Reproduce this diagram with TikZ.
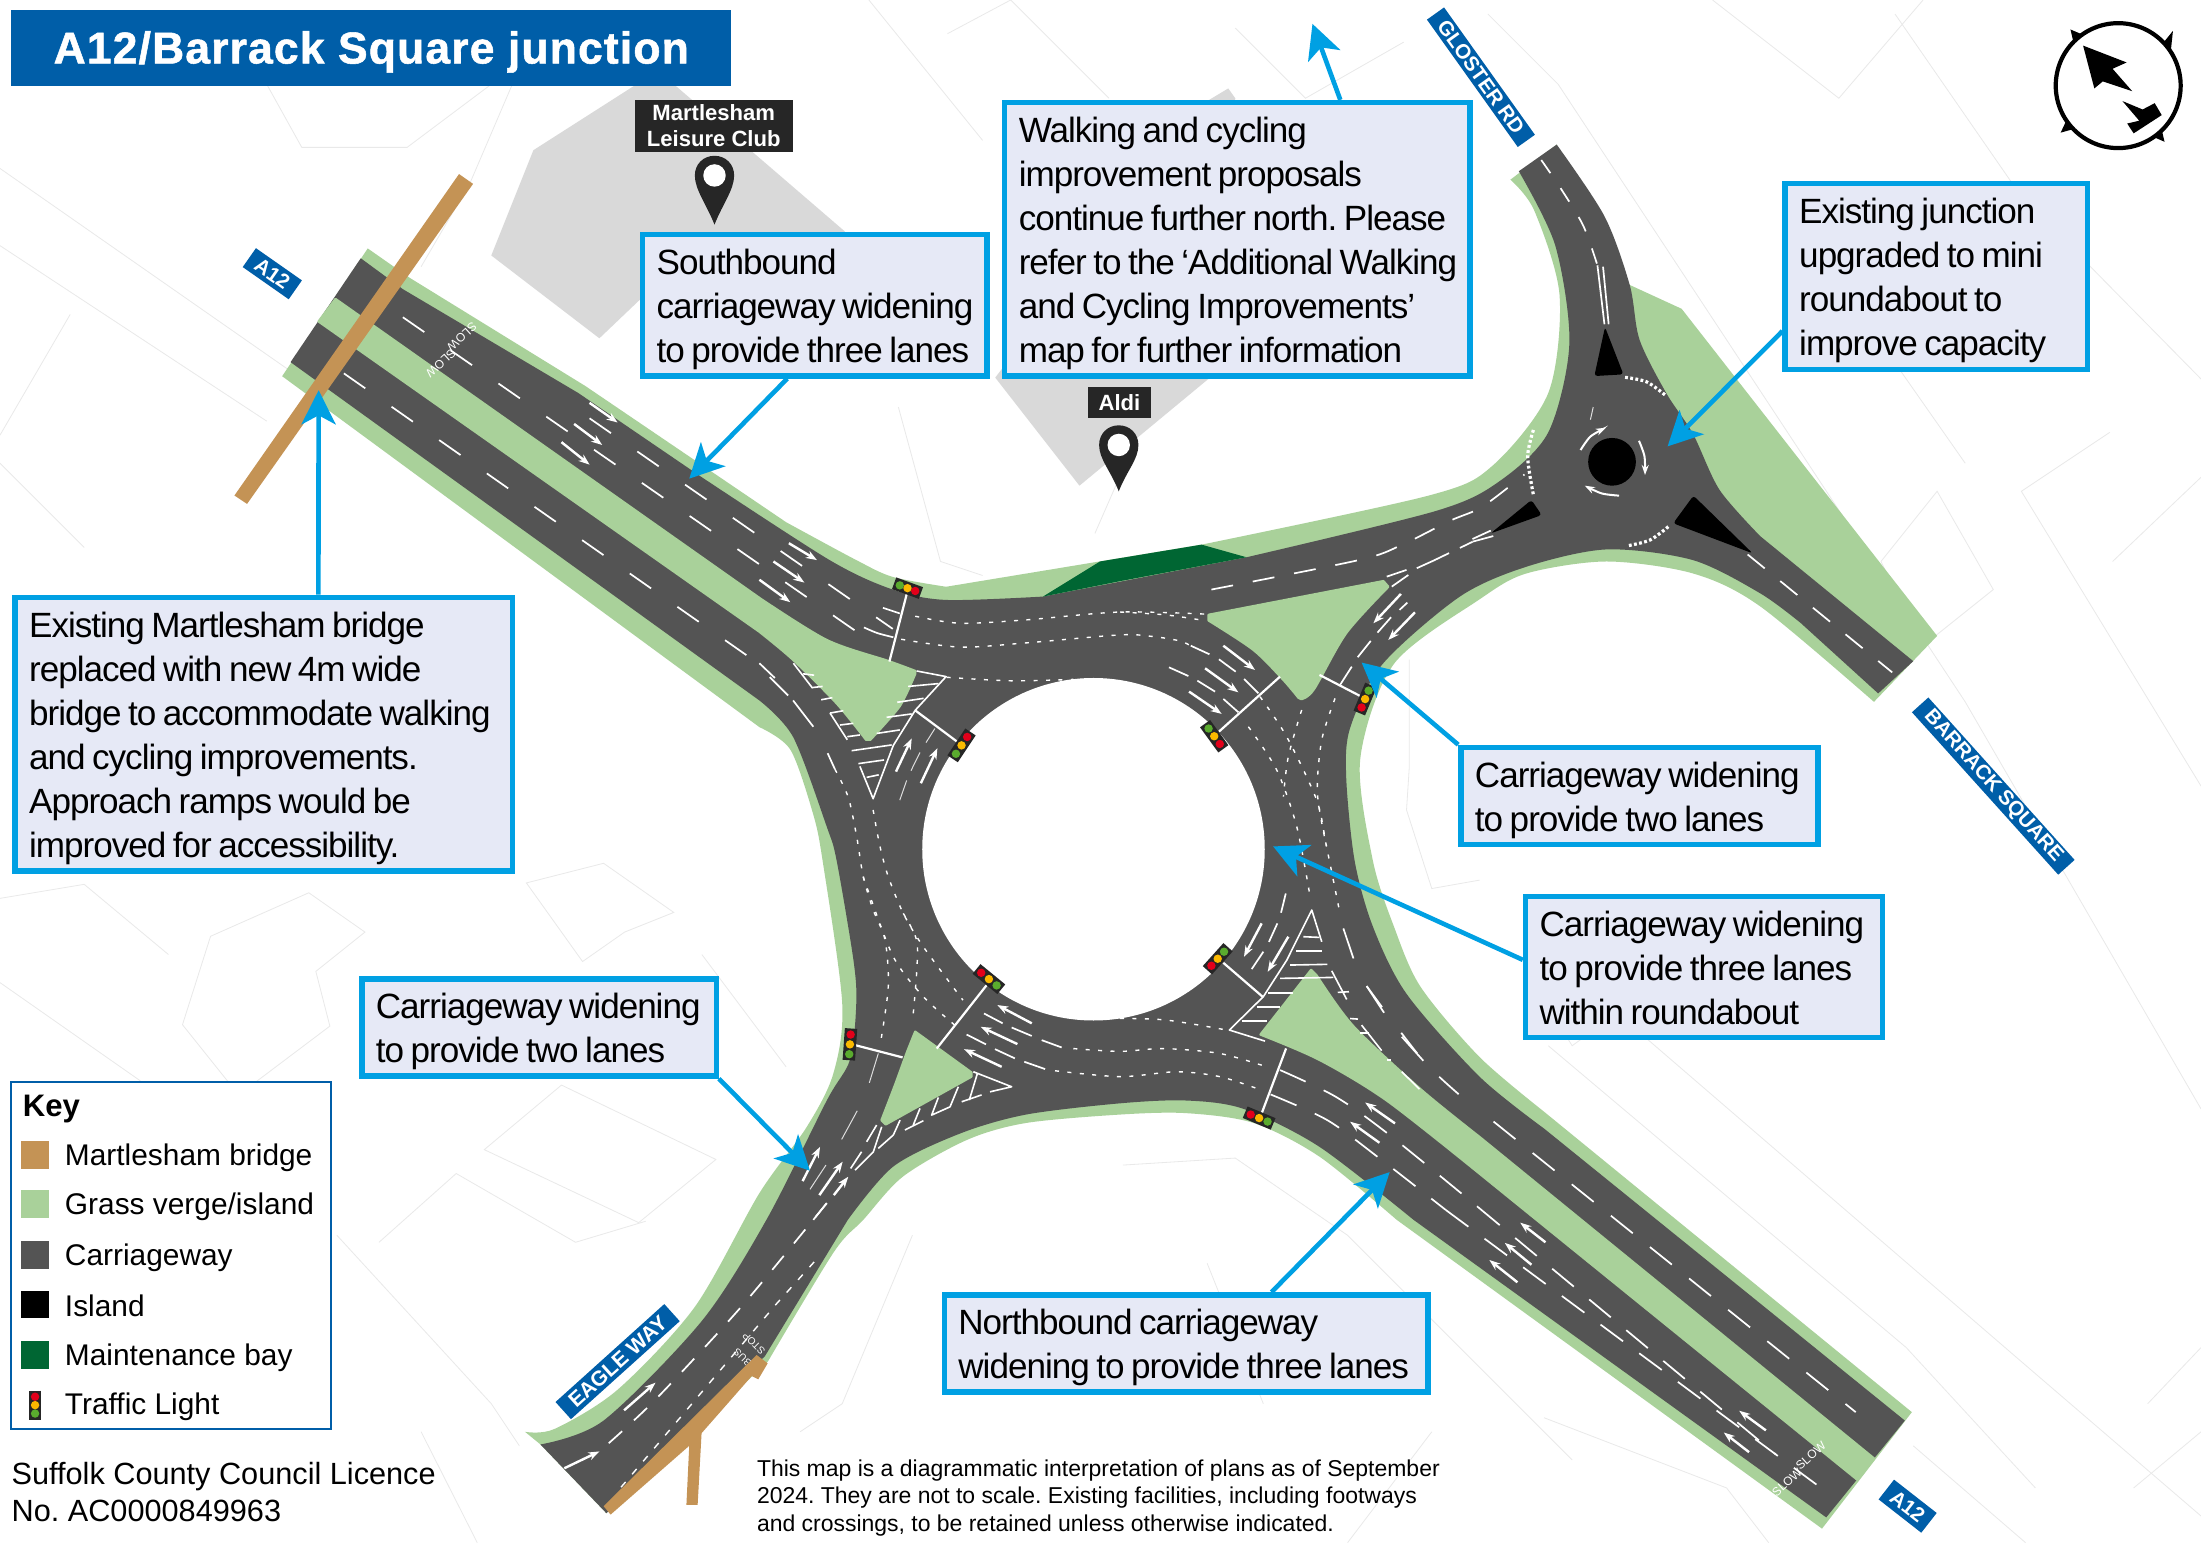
\documentclass[tikz,border=0pt]{standalone}
\usepackage{fontspec}
\setmainfont{Liberation Sans}
\newfontfamily\cofont[LetterSpace=-2.9,WordSpace=0.75]{Liberation Sans}
\newfontfamily\titlefont[LetterSpace=2.5,FakeBold=1.2]{Liberation Sans Bold}
\usetikzlibrary{arrows.meta,calc}
\frenchspacing
\definecolor{verge}{HTML}{A9D19A}
\definecolor{road}{HTML}{545454}
\definecolor{bridge}{HTML}{C49355}
\definecolor{bay}{HTML}{006633}
\definecolor{callblue}{HTML}{00A0E3}
\definecolor{callfill}{HTML}{E6E9F6}
\definecolor{signblue}{HTML}{005EA8}
\definecolor{building}{HTML}{D9D9D9}
\definecolor{faint}{HTML}{E9E9E9}
\definecolor{tlred}{HTML}{E2001A}
\definecolor{tlyellow}{HTML}{FBB900}
\definecolor{tlgreen}{HTML}{5AAB2E}
\tikzset{
 x=0.7pt,y=-0.7pt,
 mapline/.style={draw=faint,line width=.4pt},
 lane/.style={draw=white,line width=.85pt},
 thinlane/.style={draw=white!80!road,line width=.5pt},
 dashlane/.style={draw=white,line width=.85pt,dash pattern=on 13pt off 16pt},
 dotlane/.style={draw=white,line width=.7pt,dash pattern=on 2pt off 4.2pt},
 lanearrow/.style={draw=white,line width=1.2pt,-{Stealth[length=5.5pt,width=4pt]}},
 hatch/.style={draw=white,line width=.8pt,line join=round},
 stopline/.style={draw=white,line width=1.1pt},
 callbox/.style={draw=callblue,line width=2.7pt,fill=callfill,inner xsep=7pt,inner ysep=0pt,
   font={\cofont\fontsize{17.5}{22}\selectfont}},
 callarrow/.style={draw=callblue,line width=2.3pt,-{Stealth[length=17pt,width=17pt,inset=4.5pt]}},
 roadsign/.style={fill=signblue,text=white,inner sep=0pt,font={\bfseries\fontsize{10.2}{10}\selectfont}},
 placebox/.style={fill=black!85,text=white,inner sep=0pt,align=center,font={\bfseries\fontsize{11}{13.3}\selectfont}},
 keytext/.style={anchor=west,inner sep=0pt,font={\fontsize{14.9}{17}\selectfont}},
 island/.style={fill=verge,draw=verge,line width=1.2pt,line join=round},
 roadtext/.style={text=white,inner sep=0pt,font={\fontsize{6}{6}\selectfont}},
}
\newcommand\callout[6]{%
 \pgfmathsetmacro\cw{(#4-#2-3.5)*0.7}\pgfmathsetmacro\ch{(#5-#3-3.5)*0.7}\pgfmathsetmacro\ct{\cw-14}%
 \node[callbox,minimum width=\cw pt,minimum height=\ch pt] (#1) at ({(#2+#4)/2},{(#3+#5)/2}) {\vbox{\vskip4.4pt\hbox{\makebox[\ct pt][l]{\begin{tabular}{@{}l@{}}#6\end{tabular}}}}};}
\newcommand\tlight[2]{%
 \draw[line width=6.2pt,draw=black!85,shorten <=-3pt,shorten >=-3pt] (#1) -- (#2);
 \fill[tlred] (#1) circle (2.1pt);
 \fill[tlgreen] (#2) circle (2.1pt);
 \fill[tlyellow] ($(#1)!.5!(#2)$) circle (2.1pt);}
\newcommand\mappin[3]{%
 \begin{scope}[shift={(#1,#2)}]
 \fill[black!85] (0,0) .. controls (-6,-15) and (-14,-#3+24) .. (-14,-#3+14) .. controls (-14,-#3+6) and (-8,-#3) .. (0,-#3)
  .. controls (8,-#3) and (14,-#3+6) .. (14,-#3+14) .. controls (14,-#3+24) and (6,-15) .. (0,0) -- cycle;
 \fill[white] (0,-#3+14) circle (5.6pt);
 \end{scope}}
\begin{document}
\begin{tikzpicture}
\useasboundingbox (0,0) rectangle (1568,1099.2);
\fill[white] (0,0) rectangle (1568,1099.2);
% faint base map
\draw[mapline] (0,120) -- (215,270);
\draw[mapline] (0,175) -- (190,300);
\draw[mapline] (0,330) -- (60,390);
\draw[mapline] (50,224) -- (0,310);
\draw[mapline] (190,60) -- (215,105) -- (290,105) -- (350,60);
\draw[mapline] (365,60) -- (335,130) -- (300,190);
\draw[mapline] (619,0) -- (700,100);
\draw[mapline] (675,24) -- (720,0) -- (790,70);
\draw[mapline] (880,20) -- (930,70) -- (1000,30);
\draw[mapline] (1060,10) -- (1110,60) -- (1400,500) -- (1568,790);
\draw[mapline] (1220,0) -- (1310,70) -- (1370,0);
\draw[mapline] (1350,10) -- (1440,140) -- (1568,270);
\draw[mapline] (1405,150) -- (1330,230) -- (1400,330);
\draw[mapline] (1503,308) -- (1440,350) -- (1568,560);
\draw[mapline] (1568,340) -- (1505,400);
\draw[mapline] (1380,350) -- (1420,420) -- (1370,460) -- (1340,400) -- cycle;
\draw[mapline] (640,290) -- (670,400) -- (700,410);
\draw[mapline] (815,300) -- (780,380);
\draw[mapline] (150,667) -- (220,636) -- (260,664) -- (225,692) -- (235,731) -- (170,780) -- (130,730) -- cycle;
\draw[mapline] (375,629) -- (430,615) -- (480,650) -- (445,664) -- (415,685) -- cycle;
\draw[mapline] (270,885) -- (325,836) -- (410,885) -- (460,870);
\draw[mapline] (345,819) -- (400,773) -- (510,826) -- (455,871) -- cycle;
\draw[mapline] (0,700) -- (100,770);
\draw[mapline] (0,640) -- (60,630) -- (120,680);
\draw[mapline] (240,880) -- (350,1000) -- (370,1030);
\draw[mapline] (500,680) -- (560,760);
\draw[mapline] (300,1020) -- (340,1099);
\draw[mapline] (1004,470) -- (1004,546) -- (1002,577) -- (1020,633) -- (1054,627);
\draw[mapline] (1092,700) -- (1120,745) -- (1195,690);
\draw[mapline] (1103,745) -- (1358,960) -- (1450,1060);
\draw[mapline] (1150,720) -- (1440,970) -- (1568,1080);
\draw[mapline] (1363,1030) -- (1443,1099);
\draw[mapline] (800,830) -- (880,825) -- (960,880) -- (1120,1040);
\draw[mapline] (1020,1020) -- (960,1099);
\draw[mapline] (1100,1010) -- (1230,1060) -- (1260,1099);
\draw[mapline] (900,1000) -- (860,900);
\draw[mapline] (650,880) -- (600,1000) -- (570,1020);
\draw[mapline] (1530,1000) -- (1568,960);
\draw[mapline] (1520,1060) -- (1568,1020);
% buildings
\fill[building] (350,182) -- (380,107) -- (452,61) -- (480,60) -- (602,165) -- (470,200) -- (427,241) -- cycle;
\fill[building] (709,269) -- (769,346) -- (862,269) -- (880,70) -- (875,63) -- (860,72) -- cycle;
% verge
\fill[verge] (262,177) -- (292,198) -- plot[smooth,tension=.5] coordinates {(292,198) (417,275)} -- (560,372)
 -- plot[smooth,tension=.5] coordinates {(560,372) (610,399) (636,411) (674,418)} -- (856,388)
 -- plot[smooth,tension=.5] coordinates {(856,388) (1018,353) (1063,332) (1103,280) (1111,210) (1093,150) (1076,128)}
 -- (1109,103) -- (1161,203) -- (1198,220) -- (1380,453) -- (1335,500)
 -- plot[smooth,tension=.5] coordinates {(1335,500) (1254,432) (1206,408.5) (1144.5,400) (1087.5,408.5) (1054,427) (993,473) (969,541) (978,613) (993,660) (1012,703) (1054,753) (1100,792)}
 -- (1362,1006) -- (1298,1089) -- (995,869)
 -- plot[smooth,tension=.5] coordinates {(995,869) (940,824) (893,800) (845,793) (798,794) (731,800) (689,812) (643.5,838) (615,869) (594,892) (547,970)}
 -- (432,1078) -- (385,1029) -- (374,1020)
 -- plot[smooth,tension=.5] coordinates {(374,1020) (395,1018) (440,990) (495,931) (541,850) (574.6,803) (593.6,765) (600,715) (586,613) (579,579) (563,534) (541,518)}
 -- (201,268) -- cycle;
% carriageway
\fill[road] (257,184) -- (287,206) -- plot[smooth,tension=.5] coordinates {(287,206) (412,280)} -- (500,340)
 -- plot[smooth,tension=.5] coordinates {(500,340) (591,399) (636,420) (674,427.4) (743,425)} -- (888,397)
 -- plot[smooth,tension=.5] coordinates {(888,397) (1023,364) (1068,343) (1103,308) (1118,245) (1108,175) (1082,122)}
 -- (1109,103)
 -- plot[smooth,tension=.5] coordinates {(1109,103) (1143,154) (1161,203) (1168,242) (1187,280) (1206,309) (1225,349) (1254,382)}
 -- (1363,471) -- (1338,494) -- (1283,444)
 -- plot[smooth,tension=.5] coordinates {(1283,444) (1254,422.7) (1206,399) (1144.5,391.4) (1087.5,403.7) (1040,425) (985,473) (962,518) (959,553) (965,613) (978,660) (1002,708) (1054,767) (1100,804)}
 -- (1357,1012) -- (1301,1081) -- (1007,869)
 -- plot[smooth,tension=.5] coordinates {(1007,869) (940,817) (886,790) (845,784) (798,786) (731,794) (684,807.5) (636.4,831) (604,869)}
 -- (545,966) -- (432,1078) -- (385,1029)
 -- plot[smooth,tension=.5] coordinates {(385,1029) (430,1012) (500,941) (546,869) (589,784) (605.5,755) (610,715) (608,684) (596,613) (589,589) (565,525) (541,499)}
 -- (207,258) -- cycle;
% maintenance bay
\fill[bay] (743,425) -- (783.6,400) -- (856,388) -- (888,397) -- (798,414) -- cycle;
% central island
\fill[white] (779,605) circle (85.4pt);
% grass islands
\path[island] (239,213) -- (541,426) -- plot[smooth,tension=.5] coordinates {(541,426) (589,456) (633,471) (652,478)}
 -- plot[smooth,tension=.4] coordinates {(652,480) (641,503) (620,527)}
 -- plot[smooth,tension=.5] coordinates {(617,527) (596,501) (565,470) (541,450)} -- (227,229) -- cycle;
\path[island] (934,691) -- plot[smooth,tension=.5] coordinates {(938,695) (964,731) (1012,776) (1054,810)}
 -- (1335,1039) -- (1323,1054) -- (1054,836)
 -- plot[smooth,tension=.5] coordinates {(1054,836) (988,784) (940,755) (898,737)} -- cycle;
\path[island] (861,438) -- (985.5,414) -- (989,418)
 -- plot[smooth,tension=.5] coordinates {(989,418) (959,451) (936,491) (927,498)}
 -- plot[smooth,tension=.5] coordinates {(925,497) (914,484) (893,463) (861,442)} -- cycle;
\path[island] (652,735) -- (692,764) -- (692,767) -- (631,801)
 -- plot[smooth,tension=.5] coordinates {(628,798) (638,772) (646,750) (652,735)} -- cycle;
% mini roundabout
\fill[black] (1148.4,329) circle (11.9pt);
\fill[black,rounded corners=1.5pt] (1143.4,233) -- (1156.5,266.7) -- (1135.8,267.9) -- cycle;
\fill[black,rounded corners=1.5pt] (1091,356.2) -- (1098.3,366.9) -- (1061.9,380) -- cycle;
\fill[black,rounded corners=1.5pt] (1206.4,353.1) -- (1248.6,394.2) -- (1192,372.8) -- cycle;
\draw[draw=white,line width=1.6pt,dash pattern=on 1.4pt off 1.2pt] plot[smooth] coordinates {(1092.4,306.3) (1088.3,325.3) (1092.4,352.6)};
\draw[draw=white,line width=1.6pt,dash pattern=on 1.4pt off 1.2pt] plot[smooth] coordinates {(1157.7,268.8) (1173,272) (1186.2,281.4)};
\draw[draw=white,line width=1.6pt,dash pattern=on 1.4pt off 1.2pt] plot[smooth] coordinates {(1188.5,375.2) (1175.5,384.7) (1160,388.7)};
\draw[draw=white,line width=1pt,-{Stealth[length=5pt,width=3.5pt]}] plot[smooth] coordinates {(1126,320.6) (1133,311) (1144,304.7)};
\draw[draw=white,line width=1pt,-{Stealth[length=5pt,width=3.5pt]}] plot[smooth] coordinates {(1167.6,314) (1171.5,325) (1171.9,338.4)};
\draw[draw=white,line width=1pt,-{Stealth[length=5pt,width=3.5pt]}] plot[smooth] coordinates {(1153.4,353.1) (1141,351.5) (1129,346)};
\draw[thinlane] (1135,290) -- (1133,299);
% lane lines: north-west
\draw[dashlane] (287,226) -- (616,454);
\draw[dashlane] (420,298) -- (636,448);
\draw[dashlane] (245,266) -- (535,469) -- (565,499);
\draw[lane] (629,433) -- (641,437);
\draw[lane] plot[smooth] coordinates {(615.5,447) (625,451) (636.4,454)};
\draw[lane] (565,499) -- (579.4,517.7);
\draw[lane] (589.6,536.6) -- (594.8,548);
\foreach \a/\b/\c/\d in {420/287/440/301,409/302/429/317,400/315/420/331,562/387/582/399,551/400/573/415,541/413/563/429}
 \draw[lanearrow] (\a,\b) -- (\c,\d);
\draw[stopline] (646,423) -- (633.6,471.3);
\draw[stopline] (652.3,506.3) -- (682.7,529);
% dotted lanes
\draw[dotlane] plot[smooth] coordinates {(652,439) (684,444) (731,441.6) (798,436) (861,437.6)};
\draw[dotlane] plot[smooth] coordinates {(642,455.4) (684,461) (731,458) (798,452.3) (821.7,453.5) (840.6,456.6) (848,460)};
\draw[dotlane] plot[smooth] coordinates {(674.4,482.5) (720,485) (764.6,484)};
\draw[dotlane] plot[smooth] coordinates {(798,436) (830,438) (855,441.6)};
\draw[dotlane] plot[smooth] coordinates {(594.8,548) (604.3,568) (610.3,596) (615,624.5) (622,648) (630.5,669.7) (632.8,703) (627,744.5)};
\draw[dotlane] plot[smooth] coordinates {(622,577) (626.9,603) (632.8,624.5) (643.5,650.7) (657.8,674.5) (686,712.5)};
\draw[dotlane] plot[smooth] coordinates {(615,624.5) (617.4,631.7) (636.4,681.6) (657.8,710) (681.5,731.4)};
\draw[dotlane] plot[smooth] coordinates {(643.5,650.7) (653,669.7) (653,693) (650.6,722)};
\draw[dotlane] plot[smooth] coordinates {(897.6,496.3) (916.6,524.8) (938,570) (945,603) (954.6,650.7)};
\draw[dotlane] plot[smooth] coordinates {(889.3,517.7) (909.5,548.5) (923.8,588.9) (933.3,638.8)};
\draw[dotlane] plot[smooth] coordinates {(927.3,505.8) (917.8,539) (914.3,567.5)};
\draw[dotlane] plot[smooth] coordinates {(951.1,497.5) (941.6,527.2) (938.5,565) (945,603)};
\draw[dotlane] plot[smooth] coordinates {(797.9,725.5) (831,726.7) (873.9,733.8)};
\draw[dotlane] plot[smooth] coordinates {(764.6,747) (798,749) (828.8,747) (869,750.5) (902.4,760)};
\draw[dotlane] plot[smooth] coordinates {(751.6,762.8) (798,767) (838.3,763.5) (869,767) (895.3,775.4)};
% inner arm marks
\foreach \a/\b/\c/\d in {871.5/460/894.1/477.3,858.5/476.1/882.2/493.2,847.1/492.7/870.3/508.6,
  638.3/549.7/649.5/526,656/558/667.8/533,
  998/423.1/978.4/444,1008/436.2/989/455.9,
  917.8/667.3/903.1/692.3,898.8/657.8/886.2/681.6,
  735/729/710.5/716,724.8/743.8/698.6/731.5,713.6/760/686.7/747.4,
  571.8/841.4/584.2/817,583.7/851.4/600.3/827.6,594/851.4/604.3/838.3,
  444.6/1004.7/467/985,402/1046/427/1034,
  993.8/800.3/972.5/785.4,982.7/814.1/961.8/799.1,
  1101/885/1083/871,1091/901/1072/885.4,1081/913.5/1061/897.6,
  1258/1019/1239/1005,1246/1034.5/1228/1020.5}
 \draw[lanearrow] (\a,\b) -- (\c,\d);
\foreach \a/\b/\c/\d in {848.3/460/861.6/466.1,868.4/469.7/880.3/478.5,886.3/483.7/896.5/493.9,
  832.8/475.4/846.6/481.6,853/484.9/865.6/492.7,871.5/497.9/882.2/507.4,
  1002.6/429.3/997/434.5,991/439.7/981.3/450.7,976.5/456.6/967.2/468.2,963/474.9/954.6/488,
  714.3/729/701/722,735/738/720.7/732,702.4/744/688.6/737,723/754/708.8/747.4,744.5/761.6/729.7/756.4,756.3/746.2/742.1/741,
  910/657.8/904/671,900/678/891.7/690.4,916/636.5/912.6/650.2,957/661.4/964.2/682.8,
  973.6/702.5/986/721.5,998.6/738.6/1014/755.7,
  987.9/410.8/1002/406,991.5/417.9/1003.3/409.6,1009.3/404.8/1022.3/398.9,1049/385.9/1063.8/381.9,1049/384/1062/378,
  588.9/857.3/579.4/869,541/472.5/552/483}
 \draw[lane] (\a,\b) -- (\c,\d);
\foreach \a/\b/\c/\d in {666/519/659.7/529,655.4/536/649/549,645.9/556/641/570,625.7/750.5/619.3/771.4,610.7/791.3/599.6/811.7,588.4/830/577/847.3}
 \draw[thinlane] (\a,\b) -- (\c,\d);
% stop lines
\draw[stopline] (911.9,482) -- (868.4,521.2);
\draw[stopline] (940,480.8) -- (968.9,495.8);
\draw[stopline] (609,744.5) -- (643,753.3);
\draw[stopline] (667.3,747) -- (702.9,701.8);
\draw[stopline] (900,710.5) -- (871.5,685.9);
\draw[stopline] (916.2,746.9) -- (898.8,793.2);
% hatching NW
\draw[hatch] (653,478) -- (674,482) -- (652,506) -- (636.4,531) -- (622,569) -- (612.6,546);
\foreach \a/\b/\c/\d in {668.5/487/647/489,658/497.5/639.2/500.3,649.5/508.6/631.6/511,641/520/624.5/522.5,635.2/530.7/606.7/534.8,629.8/541.4/611.5/544,626/552/617.4/553.8,
  591.3/508/603.6/527,591.3/508/600.8/506.3,598.4/516.5/607.9/515.3,603.6/524.8/612.6/523.6,565.2/472.5/578.9/490.3,572/480/580/481,578.9/489.8/586/489,585/498.5/593/497}
 \draw[hatch] (\a,\b) -- (\c,\d);
% hatching SW
\draw[hatch] (693.4,763.5) -- (720.7,774.2) -- (705.3,777.8);
\foreach \a/\b/\c/\d in {699.3/780/685.1/784.9,696.3/764.7/690.5/783.7,644.7/805/657.8/798.4,655.4/789.6/650.6/801.5,624.5/801.5/617.4/813.4,613.8/820.5/606/832.4}
 \draw[hatch] (\a,\b) -- (\c,\d);
\draw[hatch] (682.7,774.2) -- (676.8,788.5) -- (663.7,794.4) -- (668.5,781.8);
\draw[hatch] (641.2,798) -- (636.4,808.6) -- (625.7,818.1);
\draw[hatch] (628.1,802.7) -- (622.2,820.5) -- (609.1,833.6);
% hatching SE
\draw[hatch] (901.2,741.7) -- (875.8,733.8) -- (900,710) -- (916.7,684) -- (934.5,648.3) -- (941.6,670.9);
\foreach \a/\b/\c/\d in {928.5/667.3/939.9/667.8,923.3/677.3/942/677.3,919/687.5/945.6/687,911.9/697/949.9/696.3,903.6/707.2/921/707.2,895.3/717.2/911.9/717.2,884.6/727.2/902.4/727.2,
  948.7/691.6/959.4/712,953/707/961/706.5,961.8/725.6/967.4/726,970/730.3/984.3/748.5,969/735.7/975/735.7,988/755/991/755,998.6/763.5/1011.2/775.9}
 \draw[hatch] (\a,\b) -- (\c,\d);
% east link
\draw[draw=white,line width=.85pt,dash pattern=on 11pt off 10pt] plot[smooth,tension=.5] coordinates {(863,420) (968,399) (998,388.5) (1033,371) (1056,361) (1086,338)};
\draw[draw=white,line width=.85pt,dash pattern=on 8pt off 6pt] (1022,399) -- (1049,386);
% mini arms
\draw[draw=white,line width=.85pt,dash pattern=on 8pt off 9pt] plot[smooth] coordinates {(1098,114) (1113,136) (1128,161) (1138,189)};
\draw[lane] (1138,189) -- (1143,231);
\draw[lane] (1142,190) -- (1146,231);
\draw[draw=white,line width=.85pt,dash pattern=on 11pt off 10pt] (1245,395) -- (1348,479);
% south-east lines
\draw[dashlane] plot[smooth,tension=.5] coordinates {(973.6,702.5) (1014,755.7) (1046.8,786)};
\draw[draw=white,line width=.85pt,dash pattern=on 14pt off 11pt] (1064,799) -- (1322,1006);
\draw[dashlane,dash pattern=on 14pt off 10pt] plot[smooth,tension=.5] coordinates {(911.9,762.3) (951,781) (987.9,807) (1053,860)};
\draw[dashlane,dash pattern=on 14pt off 10pt] (1053,860) -- (1265,1036);
\draw[dashlane,dash pattern=on 14pt off 10pt] plot[smooth,tension=.5] coordinates {(905.2,779.7) (945.6,798) (982,824.6) (1030,862)};
\draw[dashlane,dash pattern=on 14pt off 10pt] (1030,862) -- (1300,1062);
% south-west lines
\draw[dashlane,dash pattern=on 9pt off 8pt] plot[smooth,tension=.5] coordinates {(589,857) (528,931) (466,998) (427,1034)};
\draw[draw=white,line width=.7pt,dash pattern=on 3.5pt off 5pt] (580,899) -- (553,929) -- (465,1033) -- (442,1060);
% road text
\node[roadtext,rotate=42] (slowa) at (1273,1056) {SLOW};
\node[roadtext,rotate=42] (slowb) at (1290,1037) {SLOW};
\node[roadtext,rotate=222] (slowc) at (314,259) {SLOW};
\node[roadtext,rotate=222] (slowd) at (329,240) {SLOW};
\node[roadtext,rotate=135,font={\fontsize{5}{5}\selectfont}] (busw) at (529,967) {BUS};
\node[roadtext,rotate=135,font={\fontsize{5}{5}\selectfont}] (stopw) at (537,957) {STOP};
% bridges
\fill[bridge] (327,124) -- (337,131) -- (176,359) -- (167,353) -- cycle;
\fill[bridge] (539,965.3) -- (546.9,971.2) -- (540.2,982.6) -- (535.5,980.3) -- (520,998) -- (499.8,1021) -- (497,1072) -- (489,1072) -- (491,1030) -- (435,1079) -- (430,1073) -- cycle;
% traffic lights
\tlight{652,421}{641,417}
\tlight{689,525}{681,537}
\tlight{869,530}{861,519}
\tlight{970,504}{975,492}
\tlight{606,737}{605,751}
\tlight{699,693}{710,702}
\tlight{863,688}{872,678}
\tlight{891,794}{903,799}
% places
\node[placebox,minimum width=79pt,minimum height=26pt] (leisure) at (508.5,89.5) {Martlesham\\Leisure Club};
\mappin{509}{160}{49}
\node[placebox,minimum width=31.5pt,minimum height=15.4pt] (aldi) at (797.5,287) {Aldi};
\mappin{797}{350}{47}
% road signs
\node[roadsign,rotate=-35,minimum width=28pt,minimum height=11.5pt] (a12n) at (194,195) {A12};
\node[roadsign,rotate=-54.5,minimum width=78pt,minimum height=10.5pt] (gloster) at (1055,55) {GLOSTER RD};
\node[roadsign,rotate=-48,minimum width=109pt,minimum height=11pt] (barrack) at (1420,560) {BARRACK SQUARE};
\node[roadsign,rotate=42,minimum width=73pt,minimum height=11.5pt,font={\bfseries\fontsize{10.5}{11}\selectfont}] (eagle) at (440,970) {EAGLE WAY};
\node[roadsign,rotate=-38,minimum width=27pt,minimum height=12.5pt] (a12s) at (1359,1073) {A12};
% north arrow
\draw[draw=black,line width=2.1pt] (1509,61) circle (31.15pt);
\fill[black] (1484,32.5) -- (1515,44.5) -- (1505,49) -- (1519,65) -- (1498,58) -- (1492,63) -- cycle;
\fill[black] (1512,72) -- (1526.4,78) -- (1535,73.5) -- (1540,82) -- (1520,95) -- (1515.4,88) -- (1524,86) -- cycle;
\fill[black] (1541.5,30) -- (1548,22) -- (1546.5,36) -- cycle;
\fill[black] (1483,24.4) -- (1475,21) -- (1477,29.6) -- cycle;
\fill[black] (1477,92) -- (1468,94.5) -- (1472,86) -- cycle;
\fill[black] (1540,92.5) -- (1542,101) -- (1534,97.5) -- cycle;
% title
\node[fill=signblue,text=white,inner sep=0pt,minimum width=359.1pt,minimum height=37.8pt,font={\titlefont\fontsize{22.2}{24}\selectfont}] (title) at (264.5,34) {\vbox{\vskip4.2pt\hbox{A12/Barrack Square junction}}};
% callouts
\callout{c1}{456}{166}{705}{269}{Southbound\\carriageway widening\\to provide three lanes}
\callout{c2}{714}{72}{1049}{269}{Walking and cycling\\improvement proposals\\continue further north. Please\\refer to the ‘Additional Walking\\and Cycling Improvements’\\map for further information}
\callout{c3}{1270}{129}{1489}{265}{Existing junction\\upgraded to mini\\roundabout to\\improve capacity}
\callout{c4}{9}{424}{367}{622}{Existing Martlesham bridge\\replaced with new 4m wide\\bridge to accommodate walking\\and cycling improvements.\\Approach ramps would be\\improved for accessibility.}
\callout{c5}{1039}{531}{1297}{603}{Carriageway widening\\to provide two lanes}
\callout{c6}{1085}{637}{1343}{741}{Carriageway widening\\to provide three lanes\\within roundabout}
\callout{c7}{256}{696}{512}{768}{Carriageway widening\\to provide two lanes}
\callout{c8}{671}{921}{1019}{993}{Northbound carriageway\\widening to provide three lanes}
\coordinate (t1) at (491,341);
\coordinate (t2) at (935,17);
\coordinate (t3) at (1188,318);
\coordinate (t4) at (227,278);
\coordinate (t5) at (970,472);
\coordinate (t6) at (907,603);
\coordinate (t7) at (577,834);
\coordinate (t8) at (990,835);
\draw[callarrow] ($(c1.south west)+(105,0)$) -- (t1);
\draw[callarrow] ($(c2.north west)+(241,0)$) -- (t2);
\draw[callarrow] ($(c3.north west)+(0,107)$) -- (t3);
\draw[callarrow] ($(c4.north west)+(218,0)$) -- (t4);
\draw[callarrow] ($(c5.north west)+(0,0)$) -- (t5);
\draw[callarrow] ($(c6.north west)+(0,47)$) -- (t6);
\draw[callarrow] ($(c7.south east)+(0,0)$) -- (t7);
\draw[callarrow] ($(c8.north west)+(235,0)$) -- (t8);
% key
\node[draw=signblue,line width=.9pt,fill=white,inner sep=0pt,minimum width=159.6pt,minimum height=172.9pt] (keybox) at (122,894.5) {};
\node[anchor=west,inner sep=0pt,font={\bfseries\fontsize{15.5}{17}\selectfont}] (keyhead) at (16,790) {Key};
\fill[bridge] (15,813) rectangle (35,833);
\fill[verge] (15,848) rectangle (35,868);
\fill[road] (15,884) rectangle (35,904);
\fill[black] (15,920) rectangle (35,939);
\fill[bay] (15,955) rectangle (35,975);
\tlight{25,995}{25,1007}
\node[keytext] (k1) at (46,825) {Martlesham bridge};
\node[keytext] (k2) at (46,860) {Grass verge/island};
\node[keytext] (k3) at (46,896) {Carriageway};
\node[keytext] (k4) at (46,930) {Island};
\node[keytext] (k5) at (46,967) {Maintenance bay};
\node[keytext] (k6) at (46,1002) {Traffic Light};
% notes
\node[anchor=west,inner sep=0pt,align=left,font={\fontsize{15.3}{18.2}\selectfont}] (licence) at (8,1063) {Suffolk County Council Licence\\No. AC0000849963};
\node[anchor=west,inner sep=0pt,align=left,font={\fontsize{11.45}{13.7}\selectfont}] (note) at (539,1067) {This map is a diagrammatic interpretation of plans as of September\\2024. They are not to scale. Existing facilities, including footways\\and crossings, to be retained unless otherwise indicated.};
\end{tikzpicture}
\end{document}
